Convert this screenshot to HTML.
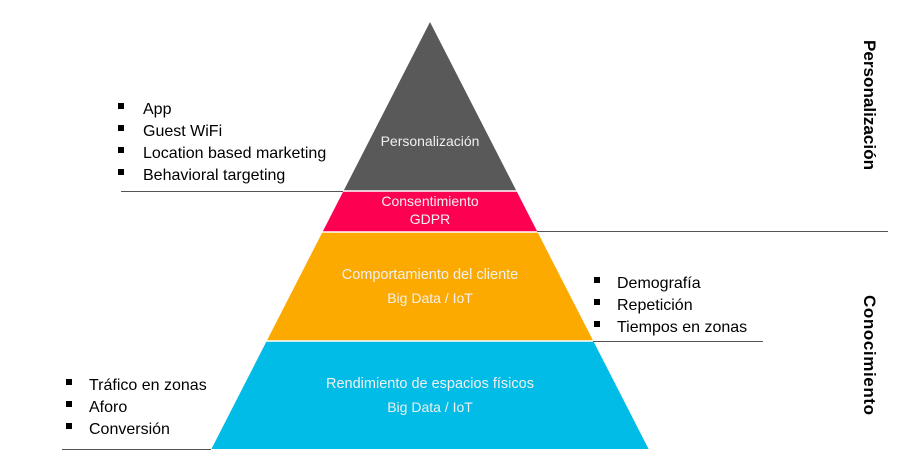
<!DOCTYPE html>
<html><head><meta charset="utf-8"><style>body{margin:0;background:#fff}svg{display:block}</style></head><body>
<svg width="920" height="469" viewBox="0 0 920 469" xmlns="http://www.w3.org/2000/svg" font-family="Liberation Sans, sans-serif">
<polygon points="430,22 516.5,191 343.5,191" fill="#595959"/>
<polygon points="343.5,191 516.5,191 537.5,232 322.5,232" fill="#fe0052"/>
<polygon points="322.5,232 537.5,232 593.3,341 266.7,341" fill="#fdaa00"/>
<polygon points="266.7,341 593.3,341 648.6,449 211.4,449" fill="#00bce6"/>
<g stroke="#fff" stroke-width="1.5"><line x1="340" y1="191" x2="520" y2="191"/><line x1="320" y1="232" x2="540" y2="232"/><line x1="264" y1="341" x2="596" y2="341"/></g>
<g stroke="#555" stroke-width="1"><line x1="121" y1="191.5" x2="343" y2="191.5"/><line x1="537" y1="231.5" x2="888" y2="231.5"/><line x1="593" y1="341.5" x2="763" y2="341.5"/><line x1="62" y1="449.5" x2="211" y2="449.5"/></g>
<g fill="#f0f0f0" font-size="14" text-anchor="middle">
<text x="430" y="146">Personalización</text>
<text x="430" y="206">Consentimiento</text>
<text x="430" y="224">GDPR</text>
<text x="430" y="279" font-size="14.5">Comportamiento del cliente</text>
<text x="430" y="303">Big Data / IoT</text>
<text x="430" y="388" font-size="14.5">Rendimiento de espacios físicos</text>
<text x="430" y="412">Big Data / IoT</text>
</g>
<g fill="#000" font-size="16">
<rect x="118" y="103" width="6" height="6"/><text x="143" y="114">App</text>
<rect x="118" y="125" width="6" height="6"/><text x="143" y="136">Guest WiFi</text>
<rect x="118" y="147" width="6" height="6"/><text x="143" y="158">Location based marketing</text>
<rect x="118" y="169" width="6" height="6"/><text x="143" y="180">Behavioral targeting</text>
<rect x="594" y="277" width="6" height="6"/><text x="617" y="288">Demografía</text>
<rect x="594" y="299" width="6" height="6"/><text x="617" y="310">Repetición</text>
<rect x="594" y="321" width="6" height="6"/><text x="617" y="332">Tiempos en zonas</text>
<rect x="66" y="379" width="6" height="6"/><text x="89" y="390">Tráfico en zonas</text>
<rect x="66" y="401" width="6" height="6"/><text x="89" y="412">Aforo</text>
<rect x="66" y="423" width="6" height="6"/><text x="89" y="434">Conversión</text>
</g>
<g font-size="17" font-weight="bold" fill="#000">
<text transform="translate(864,40) rotate(90)" textLength="130">Personalización</text>
<text transform="translate(864,295) rotate(90)" textLength="120">Conocimiento</text>
</g>
</svg>
</body></html>
